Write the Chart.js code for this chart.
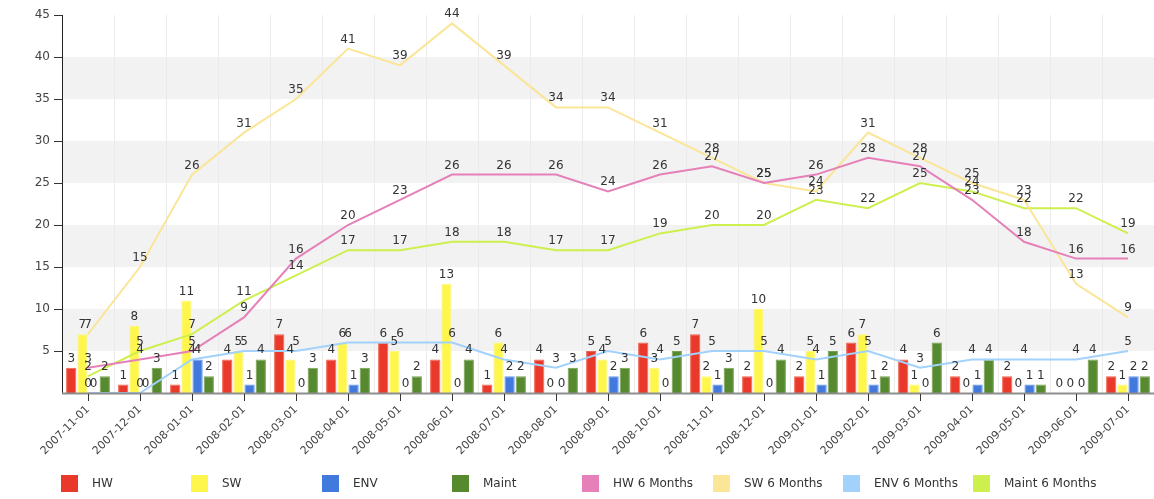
<!DOCTYPE html>
<html>
<head>
<meta charset="utf-8">
<script src="https://cdn.jsdelivr.net/npm/chart.js@4/dist/chart.umd.min.js"></script>
<style>
  body { margin: 0; background: #fff; font-family: "DejaVu Sans", Verdana, sans-serif; }
  .chartBox { position: relative; width: 1154px; height: 499px; }
  #legend { position: absolute; left: 0; top: 475px; width: 1154px; height: 20px; }
  .legend-item { position: absolute; top: 0; height: 17px; font-size: 12px; color: #333; line-height: 17px; white-space: nowrap; }
  .legend-item span { position: absolute; left: 0; top: 0; width: 17px; height: 17px; }
  .legend-item b { position: absolute; left: 31px; top: 0; font-weight: normal; }
</style>
</head>
<body>
<div class="chartBox">
  <canvas id="ticket-plot" width="1154" height="499"></canvas>
  <div id="legend"></div>
</div>
<script>
const months = ["2007-11-01", "2007-12-01", "2008-01-01", "2008-02-01", "2008-03-01", "2008-04-01",
    "2008-05-01", "2008-06-01", "2008-07-01", "2008-08-01", "2008-09-01", "2008-10-01",
    "2008-11-01", "2008-12-01", "2009-01-01", "2009-02-01", "2009-03-01", "2009-04-01",
    "2009-05-01", "2009-06-01", "2009-07-01"];

// monthly counts
const hw = [3, 1, 1, 4, 7, 4, 6, 4, 1, 4, 5, 6, 7, 2, 2, 6, 4, 2, 2, 0, 2];
const sw = [7, 8, 11, 5, 4, 6, 5, 13, 6, 0, 4, 3, 2, 10, 5, 7, 1, 0, 0, 0, 1];
const env = [0, 0, 4, 1, 0, 1, 0, 0, 2, 0, 2, 0, 1, 0, 1, 1, 0, 1, 1, 0, 2];
const maint = [2, 3, 2, 4, 3, 3, 2, 4, 2, 3, 3, 5, 3, 4, 5, 2, 6, 4, 1, 4, 2];

// 6 months running totals
const hw6 = [3, 4, 5, 9, 16, 20, 23, 26, 26, 26, 24, 26, 27, 25, 26, 28, 27, 23, 18, 16, 16];
const sw6 = [7, 15, 26, 31, 35, 41, 39, 44, 39, 34, 34, 31, 28, 25, 24, 31, 28, 25, 23, 13, 9];
const env6 = [0, 0, 4, 5, 5, 6, 6, 6, 4, 3, 5, 4, 5, 5, 4, 5, 3, 4, 4, 4, 5];
const maint6 = [2, 5, 7, 11, 14, 17, 17, 18, 18, 17, 17, 19, 20, 20, 23, 22, 25, 24, 22, 22, 19];

const yTicks = [5, 10, 15, 20, 25, 30, 35, 40, 45];

function barSet(label, data, color, edge) {
    return {
        type: 'bar',
        label: label,
        data: data,
        backgroundColor: color,
        borderColor: edge,
        borderWidth: 1,
        categoryPercentage: 0.86,
        barPercentage: 0.92,
        order: 2
    };
}

function lineSet(label, data, color) {
    return {
        type: 'line',
        label: label,
        data: data,
        borderColor: color,
        backgroundColor: color,
        borderWidth: 2,
        pointRadius: 0,
        tension: 0,
        order: 1
    };
}

// grey bands between 5-10, 15-20, ...
const bandPlugin = {
    id: 'bands',
    beforeDraw(chart) {
        const ctx = chart.ctx;
        const area = chart.chartArea;
        const y = chart.scales.y;
        ctx.save();
        ctx.fillStyle = '#f2f2f2';
        for (let v = 5; v < 45; v += 10) {
            let top = y.getPixelForValue(v + 5);
            let bottom = y.getPixelForValue(v);
            ctx.fillRect(area.left, top, area.right - area.left, bottom - top);
        }
        ctx.restore();
    }
};

// value over every bar and line point, plus x axis line and tick marks at the centres
const labelPlugin = {
    id: 'valueLabels',
    afterDraw(chart) {
        const ctx = chart.ctx;
        const x = chart.scales.x;
        const area = chart.chartArea;
        ctx.save();
        ctx.strokeStyle = '#8e8e8e';
        ctx.lineWidth = 2;
        ctx.beginPath();
        ctx.moveTo(area.left, area.bottom + 0.5);
        ctx.lineTo(area.right, area.bottom + 0.5);
        ctx.stroke();
        ctx.strokeStyle = '#333';
        ctx.lineWidth = 1;
        for (let i = 0; i < months.length; i++) {
            let px = Math.round(x.getPixelForTick(i)) + 0.5;
            ctx.beginPath();
            ctx.moveTo(px, area.bottom + 1);
            ctx.lineTo(px, area.bottom + 8);
            ctx.stroke();
        }
        ctx.font = '12px "DejaVu Sans", Verdana, sans-serif';
        ctx.fillStyle = '#333';
        ctx.textAlign = 'center';
        ctx.textBaseline = 'alphabetic';
        chart.data.datasets.forEach((ds, d) => {
            let meta = chart.getDatasetMeta(d);
            meta.data.forEach((el, i) => {
                ctx.fillText(String(ds.data[i]), el.x, el.y - 6);
            });
        });
        ctx.restore();
    }
};

const ticketPlot = new Chart("ticket-plot", {
    data: {
        labels: months,
        datasets: [
            barSet('HW', hw, '#e8392b', '#f0604f'),
            barSet('SW', sw, '#fff64c', '#fff97a'),
            barSet('ENV', env, '#4179dd', '#6a96e6'),
            barSet('Maint', maint, '#578a2e', '#76a050'),
            lineSet('HW 6 Months', hw6, '#e580b9'),
            lineSet('SW 6 Months', sw6, '#fbe597'),
            lineSet('ENV 6 Months', env6, '#a2d2fb'),
            lineSet('Maint 6 Months', maint6, '#cdf04e')
        ]
    },
    options: {
        responsive: false,
        animation: false,
        layout: { padding: { top: 15, right: 0, left: 0, bottom: 0 } },
        scales: {
            x: {
                type: 'category',
                offset: true,
                grid: {
                    offset: true,
                    color: '#ebebeb',
                    drawTicks: false
                },
                border: { display: false },
                ticks: {
                    autoSkip: false,
                    minRotation: 45,
                    maxRotation: 45,
                    padding: 10,
                    color: '#444',
                    font: { family: '"DejaVu Sans", Verdana, sans-serif', size: 11 }
                },
                afterFit: (scale) => { scale.height = 106; }
            },
            y: {
                min: 0,
                max: 45,
                afterBuildTicks: (scale) => { scale.ticks = yTicks.map(v => ({ value: v })); },
                grid: {
                    drawOnChartArea: false,
                    tickLength: 8,
                    tickColor: '#333'
                },
                border: { color: '#222', width: 1 },
                ticks: {
                    padding: 4,
                    color: '#444',
                    font: { family: '"DejaVu Sans", Verdana, sans-serif', size: 12 }
                },
                afterFit: (scale) => { scale.width = 62; }
            }
        },
        plugins: {
            legend: { display: false },
            tooltip: { enabled: false }
        }
    },
    plugins: [bandPlugin, labelPlugin]
});

// legend below the chart, fixed pitch like the original
let legendBox = document.getElementById('legend');
ticketPlot.data.datasets.forEach((ds, i) => {
    let item = document.createElement('div');
    item.className = 'legend-item';
    item.style.left = Math.round(61 + i * 130.3) + 'px';
    item.innerHTML = `<span style="background:${ds.type == 'bar' ? ds.backgroundColor : ds.borderColor}"></span><b>${ds.label}</b>`;
    legendBox.appendChild(item);
});
</script>
</body>
</html>
